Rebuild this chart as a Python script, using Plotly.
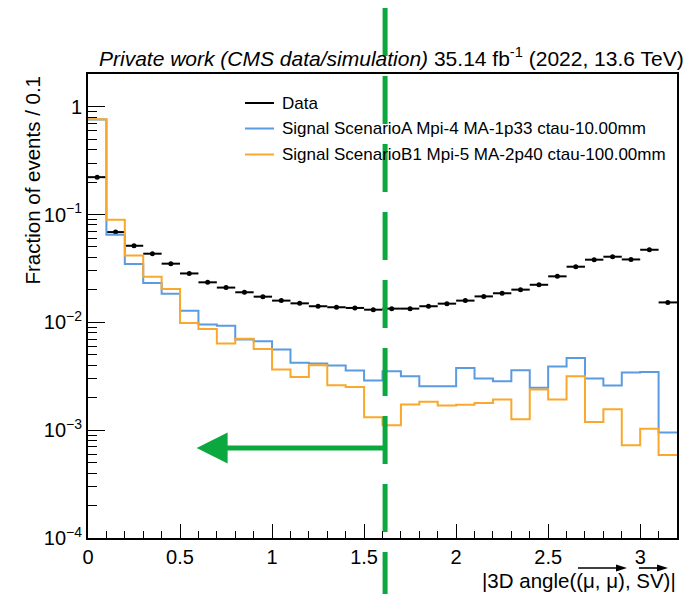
import numpy as np
import plotly.graph_objects as go

# ---------------- data ----------------
bin_edges = np.round(np.arange(0, 3.2001, 0.1), 2)

data_frac = [0.222, 0.0687, 0.0513, 0.0433, 0.0350, 0.0284, 0.0235, 0.0210,
             0.0190, 0.0173, 0.0159, 0.0150, 0.0141, 0.0138, 0.0136, 0.0131,
             0.0134, 0.0134, 0.0141, 0.0149, 0.0159, 0.0174, 0.0186, 0.0201,
             0.0223, 0.0267, 0.0328, 0.0381, 0.0406, 0.0383, 0.0471, 0.0153]

sigA_frac = [0.762, 0.0649, 0.0347, 0.0232, 0.0184, 0.0128, 0.00953, 0.00932,
             0.00692, 0.00667, 0.00559, 0.00421, 0.00415, 0.00398, 0.00357, 0.00289,
             0.00352, 0.00316, 0.00256, 0.00256, 0.00378, 0.00301, 0.00284, 0.00360,
             0.00247, 0.00389, 0.00468, 0.00301, 0.00259, 0.00342, 0.00347, 0.000952]

sigB_frac = [0.764, 0.0893, 0.0417, 0.0265, 0.0204, 0.00987, 0.00869, 0.00635,
             0.00706, 0.00567, 0.00365, 0.00312, 0.00400, 0.00261, 0.00252, 0.00132,
             0.00111, 0.00173, 0.00183, 0.00169, 0.00172, 0.00179, 0.00192, 0.00126,
             0.00238, 0.00192, 0.00316, 0.00119, 0.00156, 0.000726, 0.00103, 0.000587]

cut_value = 1.614
arrow_tip = 0.59

legend_labels = ["Data",
                 "Signal ScenarioA Mpi-4 MA-1p33 ctau-10.00mm",
                 "Signal ScenarioB1 Mpi-5 MA-2p40 ctau-100.00mm"]

ytick_vals = [1e-4, 1e-3, 1e-2, 1e-1, 1]
ytick_text = ["10<sup>\u22124</sup>", "10<sup>\u22123</sup>", "10<sup>\u22122</sup>",
              "10<sup>\u22121</sup>", "1"]

# ---------------- style ----------------
FONT = "Liberation Sans, Arial, Helvetica, sans-serif"
C_DATA = "black"
C_A = "#5b9bdf"
C_B = "#f9a82b"
C_GREEN = "#0aa83f"

centers = (bin_edges[:-1] + bin_edges[1:]) / 2
step_x = list(bin_edges)

fig = go.Figure()

def step_trace(vals, color):
    return go.Scatter(x=step_x, y=list(vals) + [vals[-1]], mode="lines",
                      line=dict(color=color, width=2, shape="hv"),
                      showlegend=False, hoverinfo="skip")

fig.add_trace(go.Scatter(x=centers, y=data_frac, mode="markers",
                         marker=dict(color=C_DATA, size=5),
                         error_x=dict(type="constant", value=0.05, width=0,
                                      thickness=2, color=C_DATA),
                         showlegend=False))
fig.add_trace(step_trace(sigA_frac, C_A))
fig.add_trace(step_trace(sigB_frac, C_B))

# geometry helpers (pixel -> paper)
L, R, T, B = 88, 15, 74, 56
W, H = 692, 594
pw, ph = W - L - R, H - T - B
def px(xp):
    return (xp - L) / pw
def py(yp):
    return (H - B - yp) / ph

shapes = []
annotations = []

# legend (manual)
leg_y = [103, 128.5, 154.5]
leg_cols = [C_DATA, C_A, C_B]
for yy, col, lab in zip(leg_y, leg_cols, legend_labels):
    shapes.append(dict(type="line", xref="paper", yref="paper",
                       x0=px(245), x1=px(274), y0=py(yy), y1=py(yy),
                       line=dict(color=col, width=2)))
    annotations.append(dict(xref="paper", yref="paper", x=px(280), y=py(yy),
                            xanchor="left", yanchor="middle", showarrow=False,
                            text=lab, font=dict(size=17, color="black", family=FONT)))

# title
annotations.append(dict(xref="paper", yref="paper", x=px(686), y=py(57),
                        xanchor="right", yanchor="middle", showarrow=False,
                        text="<i>Private work (CMS data/simulation)</i> 35.14 fb<sup>-1</sup> (2022, 13.6 TeV)",
                        font=dict(size=21, color="black", family=FONT)))

# axis titles
annotations.append(dict(xref="paper", yref="paper", x=px(678), y=py(580),
                        xanchor="right", yanchor="middle", showarrow=False,
                        text="|3D angle((\u03bc, \u03bc), SV)|",
                        font=dict(size=20.5, color="black", family=FONT)))
annotations.append(dict(xref="paper", yref="paper", x=px(32), y=py(74),
                        xanchor="center", yanchor="top", showarrow=False, textangle=-90,
                        text="Fraction of events / 0.1",
                        font=dict(size=20.5, color="black", family=FONT)))
# vector arrows over x title (shapes)
vy = py(568)
ah_w = 11 / pw
ah_h = 3.5 / ph
for x0p, x1p in [(578, 627), (639, 668)]:
    shapes.append(dict(type="line", xref="paper", yref="paper", x0=px(x0p), x1=px(x1p) - ah_w * 0.6,
                       y0=vy, y1=vy, line=dict(color="black", width=1.6)))
    shapes.append(dict(type="path", xref="paper", yref="paper",
                       path=f"M {px(x1p)} {vy} L {px(x1p) - ah_w} {vy + ah_h} L {px(x1p) - ah_w} {vy - ah_h} Z",
                       fillcolor="black", line=dict(color="black", width=0)))

# green dashed cut line
shapes.append(dict(type="line", xref="x", yref="paper", x0=cut_value, x1=cut_value,
                   y0=py(8), y1=py(600), line=dict(color=C_GREEN, width=5, dash="48px,20px"),
                   layer="above"))
# green arrow
ay_p = py(448)
head_len = 31 / (pw / 3.2)
shapes.append(dict(type="line", xref="x", yref="paper", x0=cut_value, x1=arrow_tip + head_len * 0.6,
                   y0=ay_p, y1=ay_p, line=dict(color=C_GREEN, width=5), layer="above"))
hh = 15.5 / ph
shapes.append(dict(type="path", xref="x", yref="paper",
                   path=f"M {arrow_tip} {ay_p} L {arrow_tip + head_len} {ay_p + hh} L {arrow_tip + head_len} {ay_p - hh} Z",
                   fillcolor=C_GREEN, line=dict(color=C_GREEN, width=0), layer="above"))

minor_y = [m * 10.0 ** e for e in range(-4, 1) for m in range(2, 10)]

fig.update_layout(
    width=W, height=H, margin=dict(l=L, r=R, t=T, b=B),
    paper_bgcolor="white", plot_bgcolor="white",
    font=dict(family=FONT, size=20, color="black"),
    shapes=shapes, annotations=annotations, showlegend=False,
    xaxis=dict(range=[0, 3.2], tickvals=[0, 0.5, 1, 1.5, 2, 2.5, 3],
               ticktext=["0", "0.5", "1", "1.5", "2", "2.5", "3"],
               ticks="inside", ticklen=14, tickwidth=1, tickcolor="black",
               showline=True, linecolor="black", linewidth=2, mirror=True,
               showgrid=False, zeroline=False,
               minor=dict(ticks="inside", ticklen=7, dtick=0.1, tickcolor="black", showgrid=False),
               tickfont=dict(size=20)),
    yaxis=dict(type="log", range=[-4, 0.303], tickvals=ytick_vals, ticktext=ytick_text,
               ticks="inside", ticklen=17, tickwidth=1, tickcolor="black",
               showline=True, linecolor="black", linewidth=2, mirror=True,
               showgrid=False, zeroline=False,
               minor=dict(ticks="inside", ticklen=9, tickmode="array", tickvals=minor_y,
                          tickcolor="black", showgrid=False),
               tickfont=dict(size=20)),
)

fig.write_html("out.html")
